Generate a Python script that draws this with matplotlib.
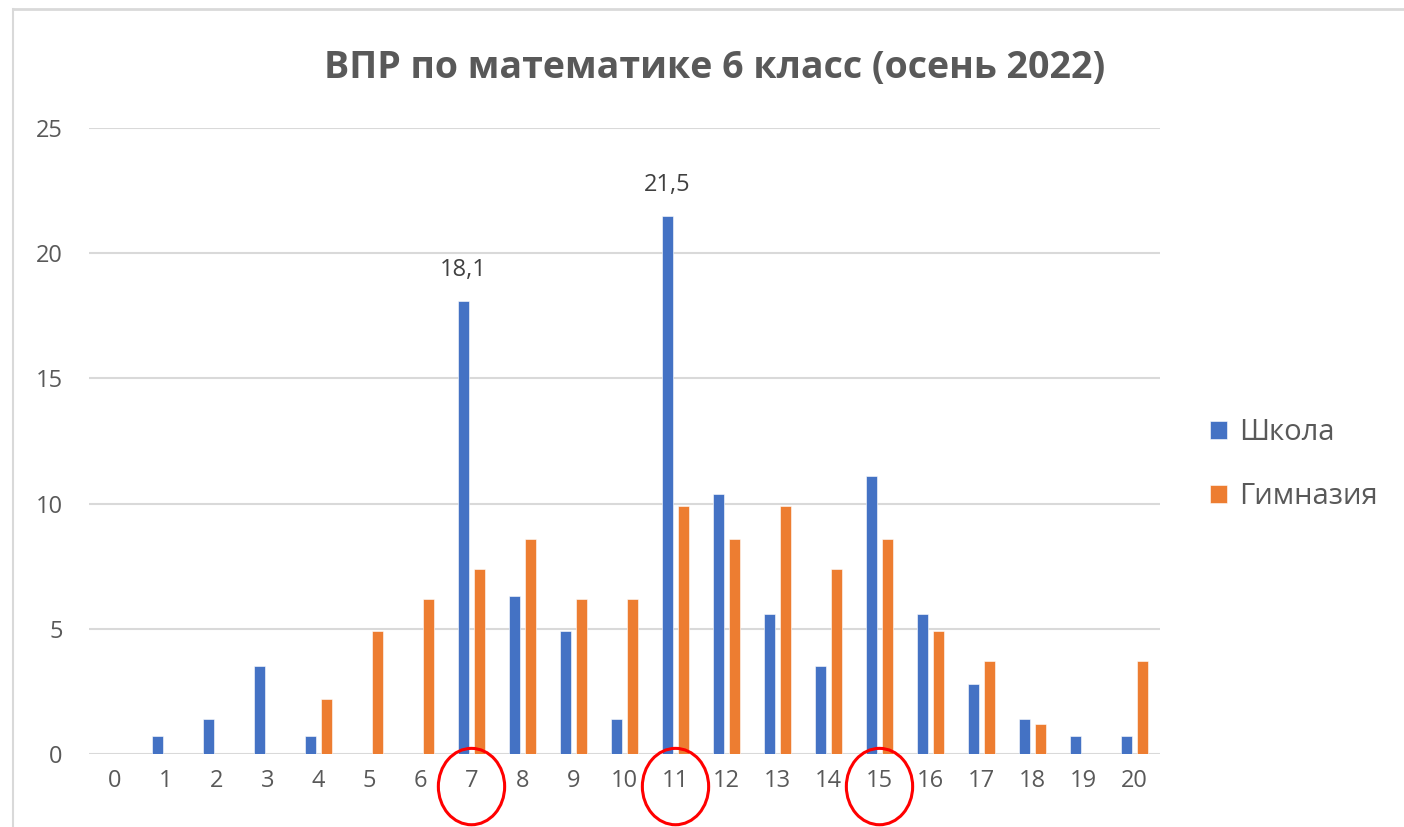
import numpy as np
import matplotlib
matplotlib.use('Agg')
import matplotlib.pyplot as plt
from matplotlib.patches import Ellipse
from matplotlib.lines import Line2D
import matplotlib.transforms as mtransforms

plt.rcParams['font.family'] = ['Open Sans', 'DejaVu Sans']

scores = list(range(21))
school = [0, 0.7, 1.4, 3.5, 0.7, 0, 0, 18.1, 6.3, 4.9, 1.4,
          21.5, 10.4, 5.6, 3.5, 11.1, 5.6, 2.8, 1.4, 0.7, 0.7]
gymn = [0, 0, 0, 0, 2.2, 4.9, 6.2, 7.4, 8.6, 6.2, 6.2,
        9.9, 8.6, 9.9, 7.4, 8.6, 4.9, 3.7, 1.2, 0, 3.7]
labelled = [7, 11]      # bars with data labels
circled = [7, 11, 15]   # ticks circled in red

grey = '#595959'
blue = '#4472C4'
orange = '#ED7D31'

fig = plt.figure(figsize=(14.04, 8.27), dpi=100)
ax = fig.add_axes([89 / 1404, 73 / 827, 1071 / 1404, 626 / 827])

x = np.array(scores)
w = 0.224
ax.bar(x - 0.154, school, width=w, color=blue, edgecolor='white', linewidth=0.4, label='Школа', zorder=3)
ax.bar(x + 0.154, gymn, width=w, color=orange, edgecolor='white', linewidth=0.4, label='Гимназия', zorder=3)

for i in labelled:
    ax.annotate(f'{school[i]:.1f}'.replace('.', ','), (x[i] - 0.154, school[i]),
                xytext=(0, 22), textcoords='offset points', ha='center', va='center',
                fontsize=17, color='#404040')

ax.set_xlim(-0.5, 20.5)
ax.set_ylim(0, 25)
ax.set_xticks(x)
ax.set_xticklabels([str(s) for s in scores])
ax.set_yticks(range(0, 26, 5))
ax.tick_params(axis='both', length=0, labelsize=17, labelcolor=grey)
ax.tick_params(axis='x', pad=11)
ax.tick_params(axis='y', pad=19)
ax.grid(axis='y', color='#d9d9d9', linewidth=1.5, zorder=0)
for s in ax.spines.values():
    s.set_visible(False)

fig.text(715 / 1404, 1 - 68 / 827, 'ВПР по математике 6 класс (осень 2022)',
         ha='center', va='center', fontsize=27, fontweight='bold', color=grey)

ax.legend(loc='center left', bbox_to_anchor=(1.022, 0.462), frameon=False,
          fontsize=21, labelcolor=grey, handlelength=0.6, handleheight=0.6,
          handletextpad=0.4, labelspacing=1.2)

# red circles round some tick labels
trans = mtransforms.blended_transform_factory(ax.transData, ax.transAxes)
for c in circled:
    ax.add_patch(Ellipse((c, -0.052), 1.3, 0.122, transform=trans, fill=False,
                         edgecolor='red', linewidth=2.2, clip_on=False, zorder=5))

# chart frame (left and top)
fig.add_artist(Line2D([13 / 1404, 13 / 1404], [0, 1 - 9 / 827], color='#d9d9d9', linewidth=1.5))
fig.add_artist(Line2D([13 / 1404, 1], [1 - 9 / 827, 1 - 9 / 827], color='#d9d9d9', linewidth=2))

fig.savefig('out.png', dpi=100)
